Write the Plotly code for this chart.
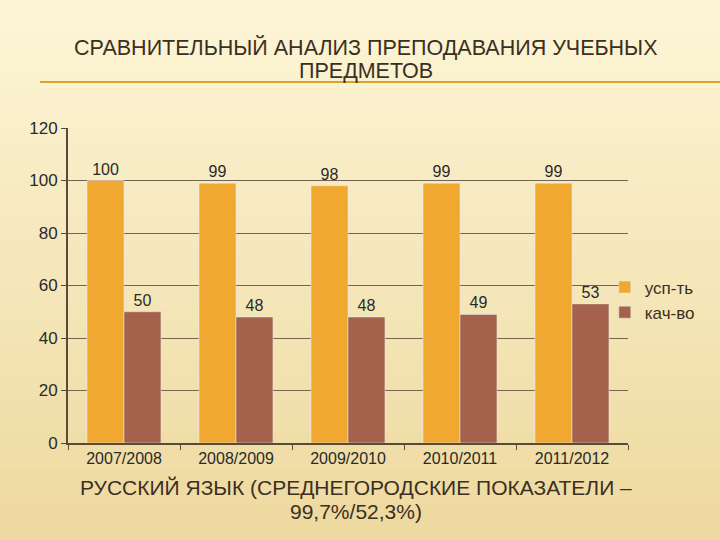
import plotly.graph_objects as go

years = ["2007/2008", "2008/2009", "2009/2010", "2010/2011", "2011/2012"]
usp = [100, 99, 98, 99, 99]
kach = [50, 48, 48, 49, 53]
series_names = ["усп-ть", "кач-во"]
y_ticks = [0, 20, 40, 60, 80, 100, 120]

FONT = "Liberation Sans, Arial, sans-serif"
TXT = "#3b2f22"

fig = go.Figure()
fig.add_trace(go.Bar(x=years, y=usp, name=series_names[0], marker_color="#F0A830",
                     text=usp, textposition="outside", cliponaxis=False,
                     textfont=dict(size=16, color="#2a2a2a", family=FONT)))
fig.add_trace(go.Bar(x=years, y=kach, name=series_names[1], marker_color="#A4614B",
                     text=kach, textposition="outside", cliponaxis=False,
                     textfont=dict(size=16, color="#2a2a2a", family=FONT)))

L, R, T, B = 68, 628, 128, 443
W, H = R - L, B - T

# background gradient bands
shapes = []
top = (253, 245, 214)
bot = (238, 218, 160)
n = 30
for i in range(n):
    t = i / (n - 1)
    c = tuple(int(top[k] + (bot[k] - top[k]) * t) for k in range(3))
    py0 = 540 * i / n
    py1 = 540 * (i + 1) / n
    shapes.append(dict(type="rect", xref="paper", yref="paper",
                       x0=-L / W, x1=(720 - L) / W,
                       y0=(B - py1) / H, y1=(B - py0) / H,
                       fillcolor="rgb(%d,%d,%d)" % c, line_width=0, layer="below"))
# underline under title
shapes.append(dict(type="line", xref="paper", yref="paper",
                   x0=(40 - L) / W, x1=(720 - L) / W,
                   y0=(B - 82) / H, y1=(B - 82) / H,
                   line=dict(color="#E0A030", width=2)))


def txt(s, cx, cy, size):
    return dict(text=s, xref="paper", yref="paper", x=(cx - L) / W, y=(B - cy) / H,
                xanchor="center", yanchor="middle", showarrow=False,
                font=dict(size=size, family=FONT, color=TXT))


fig.update_layout(
    width=720, height=540,
    margin=dict(l=L, r=720 - R, t=T, b=540 - B, autoexpand=False),
    paper_bgcolor="rgb(250,238,200)",
    plot_bgcolor="rgba(0,0,0,0)",
    barmode="group", bargap=0.34, bargroupgap=0,
    shapes=shapes,
    showlegend=True,
    legend=dict(xref="container", yref="container", x=0.84, y=(540 - 300) / 540,
                xanchor="left", yanchor="middle",
                font=dict(size=17, family=FONT, color=TXT),
                bgcolor="rgba(0,0,0,0)", itemwidth=30, tracegroupgap=0),
    font=dict(family=FONT, color=TXT),
    annotations=[
        txt("СРАВНИТЕЛЬНЫЙ АНАЛИЗ ПРЕПОДАВАНИЯ УЧЕБНЫХ", 366, 47, 21.5),
        txt("ПРЕДМЕТОВ", 366, 71, 21.5),
        txt("РУССКИЙ ЯЗЫК (СРЕДНЕГОРОДСКИЕ ПОКАЗАТЕЛИ –", 356, 487, 21),
        txt("99,7%/52,3%)", 356, 511, 21),
    ],
)
fig.update_xaxes(showline=True, linecolor="#5a4a3a", linewidth=2,
                 ticks="outside", tickson="boundaries", ticklen=5, tickcolor="#5a4a3a",
                 tickfont=dict(size=16, family=FONT, color="#2a2a2a"))
fig.update_yaxes(range=[0, 120], tickvals=y_ticks, showline=True, linecolor="#5a4a3a",
                 linewidth=2, ticks="outside", ticklen=5, tickcolor="#5a4a3a",
                 showgrid=True, gridcolor="#74644f", gridwidth=1, zeroline=False,
                 tickfont=dict(size=17, family=FONT, color="#2a2a2a"))

fig.write_html("out.html")
